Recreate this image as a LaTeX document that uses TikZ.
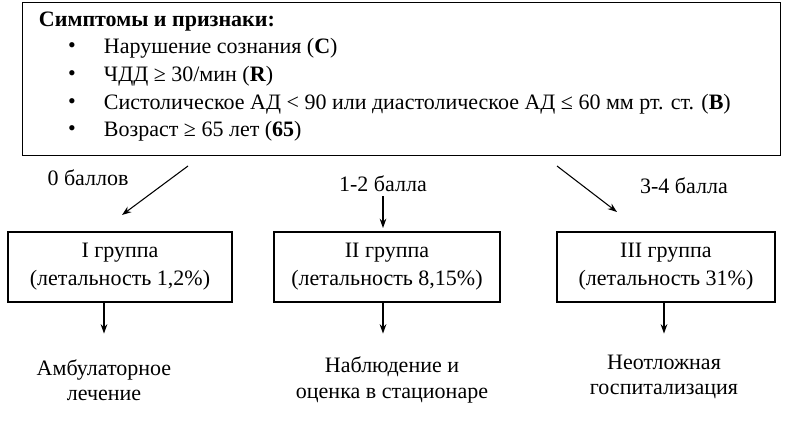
\documentclass[tikz,border=0pt]{standalone}
\usepackage{fontspec}
\setmainfont{Liberation Serif}
\usetikzlibrary{positioning,arrows.meta}
\begin{document}
\begin{tikzpicture}[x=0.75pt, y=-0.75pt, thick,
    every node/.style={font=\fontsize{16.5}{19}\selectfont},
    box/.style={draw, line width=0.8pt, align=center, inner sep=0pt},
    arr/.style={line width=0.8pt, -{Stealth[length=7pt, width=5pt]}},
    lbl/.style={align=center}]
    % frame
    \useasboundingbox (0,0) rectangle (797,421);

    % 1. Top box
    \node[box, minimum width=568.5pt, minimum height=114.75pt, anchor=north west] (top) at (22,2) {};
    \node[anchor=west] (head) at (34,22) {\textbf{Симптомы и признаки:}};
    \foreach \y/\t in {48/{Нарушение сознания (\textbf{C})},
                       76/{ЧДД ≥ 30/мин (\textbf{R})},
                       104/{Систолическое АД < 90 или диастолическое АД ≤ 60 мм рт. ст. (\textbf{B})},
                       131/{Возраст ≥ 65 лет (\textbf{65})}} {
        \node at (72,\y) {•};
        \node[anchor=west] at (99,\y) {\t};
    }

    % 2. Groups
    \node[box, minimum width=168pt, minimum height=52.5pt] (g1) at (120,267)
        {I группа\\[2pt](летальность 1,2\%)};
    \node[box, minimum width=169.5pt, minimum height=52.5pt] (g2) at (387,267)
        {II группа\\[2pt](летальность 8,15\%)};
    \node[box, minimum width=163.5pt, minimum height=52.5pt] (g3) at (666,267)
        {III группа\\[2pt](летальность 31\%)};

    % scores
    \node (s1) at (88,178) {0 баллов};
    \node (s2) at (383,184) {1-2 балла};
    \node (s3) at (684,186) {3-4 балла};
    \coordinate (a1) at (188,166);
    \coordinate (b1) at (122,215);
    \coordinate (a3) at (557,166);
    \coordinate (b3) at (617,212);
    \coordinate (b2) at (383,228);
    \draw[arr] (a1) -- (b1);
    \draw[arr] (s2.south |- 0,196) -- (b2);
    \draw[arr] (a3) -- (b3);

    % 3. Outcomes
    \node[lbl] (o1) at (104,380) {Амбулаторное\\лечение};
    \node[lbl] (o2) at (392,380) {Наблюдение и\\оценка в стационаре};
    \node[lbl] (o3) at (664,377) {Неотложная\\госпитализация};
    \draw[arr] (g1.south -| o1) -- ++(0,31);
    \draw[arr] (g2.south -| s2) -- ++(0,31);
    \draw[arr] (g3.south -| o3) -- ++(0,31);
\end{tikzpicture}
\end{document}
